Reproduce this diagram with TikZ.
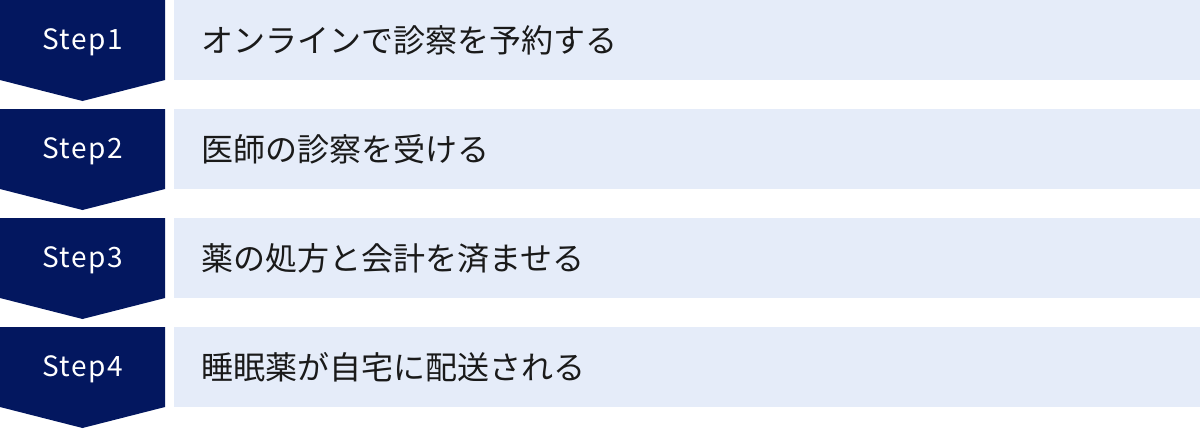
\documentclass[tikz,border=0pt]{standalone}
\usepackage{fontspec}
\setmainfont{Noto Sans CJK JP}
\definecolor{navy}{HTML}{03175F}
\definecolor{pale}{HTML}{E5ECF9}
\definecolor{ink}{HTML}{1A1A1A}
\tikzset{
  stepshape/.style={fill=navy,draw=none},
  barbox/.style={fill=pale,draw=none},
  steplabel/.style={text=white,font=\fontsize{28}{30}\selectfont,inner sep=0pt},
  bartext/.style={text=ink,font=\fontsize{32}{36}\selectfont,inner sep=0pt,anchor=west},
}
\begin{document}
\begin{tikzpicture}[x=1pt,y=-1pt]
\useasboundingbox (0,0) rectangle (1200,429);
\foreach \i/\t in {0/オンラインで診察を予約する,1/医師の診察を受ける,2/薬の処方と会計を済ませる,3/睡眠薬が自宅に配送される}{
  \pgfmathsetmacro{\y}{109*\i}
  \fill[stepshape] (0,\y) -- (165,\y) -- (165,\y+80) -- (82.5,\y+101) -- (0,\y+80) -- cycle;
  \fill[barbox] (174,\y) rectangle (1200,\y+80);
  \pgfmathtruncatemacro{\n}{\i+1}
  \node[steplabel] (s\n) at (82.5,\y+42) {\addfontfeatures{LetterSpace=5}Step\n};
  \node[bartext] (t\n) at (201,\y+40) {\t};
}
\end{tikzpicture}
\end{document}
